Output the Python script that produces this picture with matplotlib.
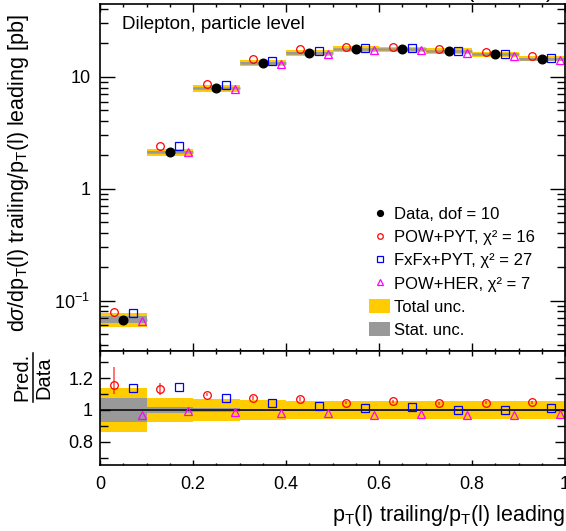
import numpy as np
import matplotlib
matplotlib.use('Agg')
import matplotlib.pyplot as plt
from matplotlib.lines import Line2D
from matplotlib.patches import Patch
from matplotlib.ticker import FixedLocator, MultipleLocator, LogLocator, NullFormatter, FuncFormatter

plt.rcParams['font.family'] = ['Liberation Sans', 'DejaVu Sans']
plt.rcParams['mathtext.fontset'] = 'custom'
plt.rcParams['mathtext.rm'] = 'Liberation Sans'
plt.rcParams['mathtext.it'] = 'Liberation Sans:italic'
plt.rcParams['mathtext.sf'] = 'Liberation Sans'

# bins in pT(l) trailing / pT(l) leading
bin_edges = [0.0, 0.1, 0.2, 0.3, 0.4, 0.5, 0.6, 0.7, 0.8, 0.9, 1.0]
# measured cross section [pb]
data_xsec = [0.0675, 2.12, 7.88, 13.3, 16.4, 17.7, 17.6, 16.9, 15.85, 14.5]
# relative uncertainties
tot_unc = [0.14, 0.072, 0.067, 0.062, 0.058, 0.057, 0.057, 0.057, 0.057, 0.057]
stat_unc = [0.075, 0.018, 0.012, 0.008, 0.008, 0.008, 0.008, 0.008, 0.008, 0.008]
# prediction / data
ratio_powpyt = [1.158, 1.131, 1.096, 1.075, 1.069, 1.046, 1.054, 1.041, 1.046, 1.048]
ratio_fxfx = [1.137, 1.141, 1.075, 1.046, 1.027, 1.010, 1.016, 1.002, 1.000, 1.010]
ratio_powher = [0.971, 0.996, 0.985, 0.981, 0.979, 0.971, 0.977, 0.971, 0.967, 0.975]
powpyt_err_lo = [0.06, 0.035, 0.01, 0.01, 0.01, 0.01, 0.01, 0.01, 0.01, 0.01]
powpyt_err_hi = [0.11, 0.035, 0.01, 0.01, 0.01, 0.01, 0.01, 0.01, 0.01, 0.01]

edges = np.array(bin_edges)
lo = edges[:-1]
w = np.diff(edges)
data = np.array(data_xsec)
tot = np.array(tot_unc)
stat = np.array(stat_unc)
r_pp = np.array(ratio_powpyt)
r_fx = np.array(ratio_fxfx)
r_ph = np.array(ratio_powher)

x_pp = lo + 0.3 * w
x_data = lo + 0.5 * w
x_fx = lo + 0.7 * w
x_ph = lo + 0.9 * w

yellow = '#ffcc00'
grey = '#999999'

fig = plt.figure(figsize=(5.66, 5.31), dpi=100)
ax = fig.add_axes([100/566, 180/531, 465/566, 347/531])
rax = fig.add_axes([100/566, 66/531, 465/566, 114/531])

# main panel
ax.bar(lo, 2*tot*data, bottom=data*(1-tot), width=w, align='edge', color=yellow, lw=0)
ax.bar(lo, 2*stat*data, bottom=data*(1-stat), width=w, align='edge', color=grey, lw=0)
ax.hlines(data, lo, lo + w, color=grey, lw=1.8)
ax.plot(x_pp, data*r_pp, 'o', mfc='none', mec='red', ms=5.5, mew=0.9, ls='none')
ax.plot(x_data, data, 'o', color='black', ms=6.2, ls='none')
ax.plot(x_fx, data*r_fx, 's', mfc='none', mec='blue', ms=5.8, mew=0.9, ls='none')
ax.plot(x_ph, data*r_ph, '^', mfc='none', mec='magenta', ms=6, mew=0.9, ls='none')

ax.set_yscale('log')
ax.set_xlim(0, 1)
ax.set_ylim(0.0354, 44.6)
ax.yaxis.set_major_locator(FixedLocator([0.1, 1, 10]))
ax.yaxis.set_major_formatter(FuncFormatter(lambda v, p: {0.1: '$10^{-1}$', 1: '1', 10: '10'}.get(round(v, 3), '')))
ax.yaxis.set_minor_locator(LogLocator(subs=np.arange(2, 10)))
ax.yaxis.set_minor_formatter(NullFormatter())
ax.xaxis.set_major_locator(MultipleLocator(0.2))
ax.xaxis.set_minor_locator(MultipleLocator(0.05))
ax.tick_params(axis='both', which='both', direction='in', top=True, right=True, labelbottom=False, width=1)
ax.tick_params(axis='x', which='major', length=6)
ax.tick_params(axis='x', which='minor', length=2.5)
ax.tick_params(axis='y', which='major', length=11, labelsize=13, pad=7)
ax.tick_params(axis='y', which='minor', length=5.5)

ax.text(0.047, 0.94, 'Dilepton, particle level', transform=ax.transAxes, fontsize=13.5, va='center', ha='left')

handles = [
    Line2D([], [], marker='o', color='black', ls='none', ms=4.2),
    Line2D([], [], marker='o', mfc='none', mec='red', ls='none', ms=4, mew=0.9),
    Line2D([], [], marker='s', mfc='none', mec='blue', ls='none', ms=4, mew=0.9),
    Line2D([], [], marker='^', mfc='none', mec='magenta', ls='none', ms=4, mew=0.9),
    Patch(color=yellow, lw=0),
    Patch(color=grey, lw=0),
]
labels = ['Data, dof = 10', 'POW+PYT, χ² = 16', 'FxFx+PYT, χ² = 27',
          'POW+HER, χ² = 7', 'Total unc.', 'Stat. unc.']
ax.legend(handles, labels, loc='upper left', bbox_to_anchor=(0.5785, 0.4165), frameon=False,
          fontsize=12, borderpad=0, borderaxespad=0, handlelength=1.26, handleheight=0.9,
          handletextpad=0.25, labelspacing=0.45)

fig.text(19/566, 1 - 14/531, r'd$\sigma$/dp$_{\mathrm{T}}$(l) trailing/p$_{\mathrm{T}}$(l) leading [pb]',
         rotation=90, ha='center', va='top', fontsize=15.5)
fig.text(554/566, 1 + 2.5/531, r'35.9 fb$^{-1}$ (13 TeV)', ha='right', va='baseline', fontsize=16)

# ratio panel
rax.bar(lo, 2*tot, bottom=1-tot, width=w, align='edge', color=yellow, lw=0)
rax.bar(lo, 2*stat, bottom=1-stat, width=w, align='edge', color=grey, lw=0)
rax.axhline(1, color='black', lw=1.1)
rax.errorbar(x_pp, r_pp, yerr=[powpyt_err_lo, powpyt_err_hi], fmt='none', ecolor=(1, 0, 0, 0.55), elinewidth=1.4)
rax.plot(x_pp, r_pp, 'o', mfc='none', mec='red', ms=5.5, mew=0.9, ls='none')
rax.plot(x_fx, r_fx, 's', mfc='none', mec='blue', ms=5.8, mew=0.9, ls='none')
rax.plot(x_ph, r_ph, '^', mfc='none', mec='magenta', ms=6, mew=0.9, ls='none')

rax.set_xlim(0, 1)
rax.set_ylim(0.656, 1.369)
rax.yaxis.set_major_locator(FixedLocator([0.8, 1.0, 1.2]))
rax.yaxis.set_minor_locator(MultipleLocator(0.1))
rax.yaxis.set_major_formatter(FuncFormatter(lambda v, p: '%g' % round(v, 2)))
rax.xaxis.set_major_locator(MultipleLocator(0.2))
rax.xaxis.set_minor_locator(MultipleLocator(0.05))
rax.xaxis.set_major_formatter(FuncFormatter(lambda v, p: '%g' % round(v, 2)))
rax.tick_params(axis='both', which='both', direction='in', top=True, right=True, width=1)
rax.tick_params(axis='x', which='major', length=3.5, labelsize=13, pad=8)
rax.tick_params(axis='x', which='minor', length=1.8)
rax.tick_params(axis='y', which='major', length=7, labelsize=13, pad=5)
rax.tick_params(axis='y', which='minor', length=6)

# Pred./Data as a stacked fraction
fig.text(22/566, 1 - 377/531, 'Pred.', rotation=90, ha='center', va='center', fontsize=14.5)
fig.text(44/566, 1 - 378/531, 'Data', rotation=90, ha='center', va='center', fontsize=14.5)
fig.add_artist(Line2D([33/566, 33/566], [1 - 353/531, 1 - 402/531], color='black', lw=1.1))

fig.text(565/566, 1 - 516/531, r'p$_{\mathrm{T}}$(l) trailing/p$_{\mathrm{T}}$(l) leading',
         ha='right', va='center', fontsize=15.5)

for a in (ax, rax):
    for s in a.spines.values():
        s.set_linewidth(1.2)

fig.savefig('out.png', dpi=100)
